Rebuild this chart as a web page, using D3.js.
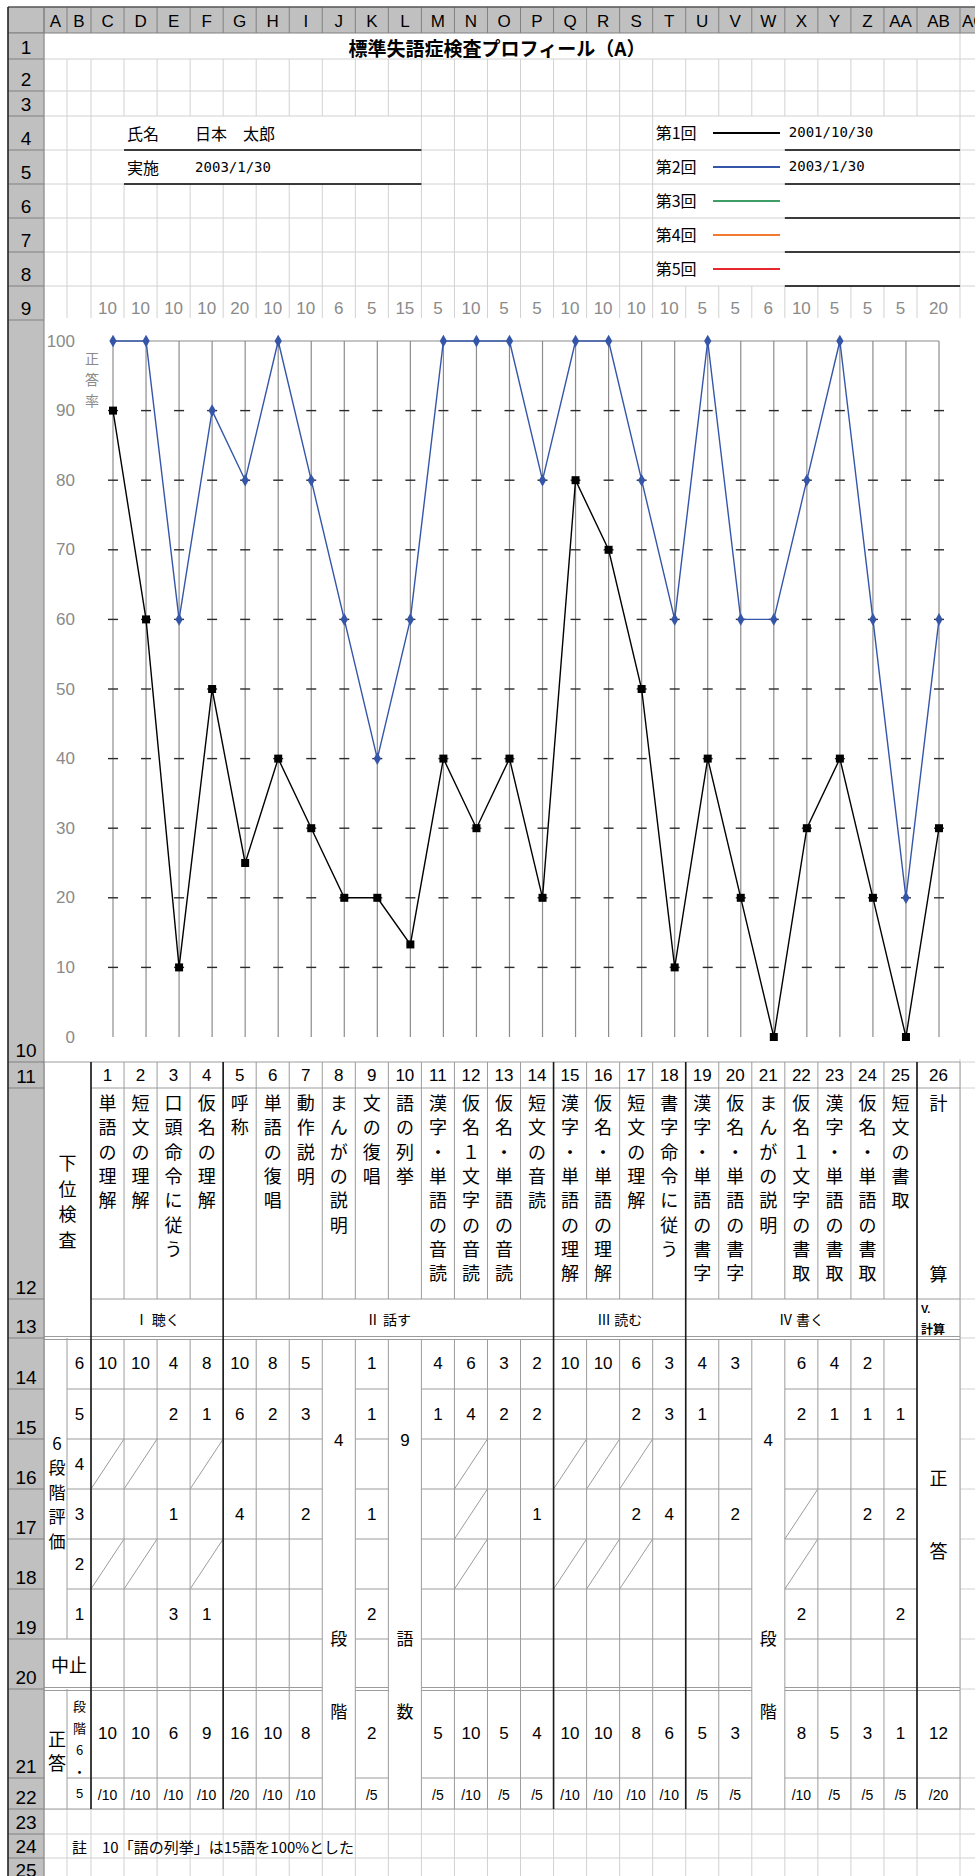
<!DOCTYPE html>
<html lang="ja">
<head>
<meta charset="utf-8">
<script src="https://cdn.jsdelivr.net/npm/d3@7"></script>
<style>
    body { margin: 0; background: #fff; }
    text { font-family: "Noto Sans CJK JP", sans-serif; }
    text.num { font-family: "Liberation Sans Narrow", "Liberation Sans", sans-serif; }
    text.mono { font-family: "DejaVu Sans Mono", monospace; }
</style>
</head>
<body>
<div id="sheet"></div>
<script>
'use strict';

/*
Data
 */
const itemNums = d3.range(1, 27);
const itemNames = ['単語の理解', '短文の理解', '口頭命令に従う', '仮名の理解', '呼称', '単語の復唱', '動作説明',
    'まんがの説明', '文の復唱', '語の列挙', '漢字・単語の音読', '仮名１文字の音読', '仮名・単語の音読', '短文の音読',
    '漢字・単語の理解', '仮名・単語の理解', '短文の理解', '書字命令に従う', '漢字・単語の書字', '仮名・単語の書字',
    'まんがの説明', '仮名１文字の書取', '漢字・単語の書取', '仮名・単語の書取', '短文の書取', '計算'];
const maxScores = [10, 10, 10, 10, 20, 10, 10, 6, 5, 15, 5, 10, 5, 5, 10, 10, 10, 10, 5, 5, 6, 10, 5, 5, 5, 20];
const session1 = [90, 60, 10, 50, 25, 40, 30, 20, 20, 13.3, 40, 30, 40, 20, 80, 70, 50, 10, 40, 20, 0, 30, 40, 20, 0, 30];
const session2 = [100, 100, 60, 90, 80, 100, 80, 60, 40, 60, 100, 100, 100, 80, 100, 100, 80, 60, 100, 60, 60, 80, 100, 60, 20, 60];
const sessionLabels = ['第1回', '第2回', '第3回', '第4回', '第5回'];
const sessionDates = ['2001/10/30', '2003/1/30', '', '', ''];
const sessionColors = ['#000000', '#3556a8', '#3f9e68', '#f27a2e', '#e8282e'];
const yTicks = d3.range(0, 101, 10);

const groupLabels = ['Ⅰ 聴く', 'Ⅱ 話す', 'Ⅲ 読む', 'Ⅳ 書く'];
const groupEnds = [4, 14, 18, 25, 26];

const levels = [6, 5, 4, 3, 2, 1];
const level6 = [10, 10, 4, 8, 10, 8, 5, null, 1, null, 4, 6, 3, 2, 10, 10, 6, 3, 4, 3, null, 6, 4, 2, null, null];
const level5 = [null, null, 2, 1, 6, 2, 3, null, 1, null, 1, 4, 2, 2, null, null, 2, 3, 1, null, null, 2, 1, 1, 1, null];
const level4 = itemNums.map(() => null);
const level3 = [null, null, 1, null, 4, null, 2, null, 1, null, null, null, null, 1, null, null, 2, 4, null, 2, null, null, null, 2, 2, null];
const level2 = itemNums.map(() => null);
const level1 = [null, null, 3, 1, null, null, null, null, 2, null, null, null, null, null, null, null, null, null, null, null, null, 2, null, null, 2, null];
const slashCells = [[1, 4], [1, 2], [2, 4], [2, 2], [4, 4], [4, 2], [12, 4], [12, 3], [12, 2],
    [15, 4], [15, 2], [16, 4], [16, 2], [17, 4], [17, 2], [22, 3], [22, 2]];
const mergedItems = [8, 10, 21];
const mergedValues = [4, 9, 4];
const mergedUnits = ['段階', '語数', '段階'];
const correctCounts = [10, 10, 6, 9, 16, 10, 8, null, 2, null, 5, 10, 5, 4, 10, 10, 8, 6, 5, 3, null, 8, 5, 3, 1, 12];

const patientName = '日本　太郎';
const testDate = '2003/1/30';
const title = '標準失語症検査プロフィール（A）';
const note = '註　10「語の列挙」は15語を100%とした';

/*
Sheet
 */
class ProfileSheet {

    // Configs
    svgW = 975;
    svgH = 1876;
    colLetters = ['A', 'B', 'C', 'D', 'E', 'F', 'G', 'H', 'I', 'J', 'K', 'L', 'M', 'N', 'O', 'P', 'Q', 'R', 'S',
        'T', 'U', 'V', 'W', 'X', 'Y', 'Z', 'AA', 'AB', 'AC'];
    colEdges = [44, 67, 91].concat(d3.range(1, 26).map(k => 91 + k * 33.04), [960, 1000]);
    rowEdges = [33, 59, 91, 116, 150, 184, 218, 252, 286, 320, 1062, 1088, 1299, 1338, 1389, 1439, 1489,
        1539, 1589, 1639, 1689, 1778, 1809, 1834, 1858, 1882];
    sheetLine = '#d2d2d2';
    cellLine = '#9c9c9c';
    headFill = '#c0c0c0';
    headLine = '#808080';
    boldLine = '#1a1a1a';

    // Tools
    xScale = d3.scalePoint().domain(itemNums).range([113, 939]);
    yScale = d3.scaleLinear().domain([0, 100]).range([1037, 341]);

    constructor(_target) {
        this.target = _target;
        this.init();
    }

    /*
    1. Init
     */
    init() {
        const vis = this;
        vis.svg = d3.select(`#${vis.target}`)
            .append('svg')
            .attr('width', vis.svgW)
            .attr('height', vis.svgH);
        vis.svg.append('rect').attr('width', vis.svgW).attr('height', vis.svgH).attr('fill', '#fff');

        vis.gridG = vis.svg.append('g').attr('class', 'gridG');
        vis.tableG = vis.svg.append('g').attr('class', 'tableG');
        vis.chartG = vis.svg.append('g').attr('class', 'chartG');
        vis.headG = vis.svg.append('g').attr('class', 'headG');

        vis.render();
    }

    // Helpers
    colL(c) { return this.colEdges[c]; }
    itemL(i) { return this.colEdges[i + 1]; }
    itemR(i) { return this.colEdges[i + 2]; }
    itemC(i) { return (this.itemL(i) + this.itemR(i)) / 2; }
    rowT(r) { return this.rowEdges[r - 1]; }
    rowB(r) { return this.rowEdges[r]; }
    rowC(r) { return (this.rowT(r) + this.rowB(r)) / 2; }
    levelRow(l) { return 14 + (6 - l); }

    line(g, x1, y1, x2, y2, color, w) {
        return g.append('line')
            .attr('x1', x1).attr('y1', y1).attr('x2', x2).attr('y2', y2)
            .attr('stroke', color).attr('stroke-width', w || 1);
    }

    text(g, x, y, s, size, opts = {}) {
        return g.append('text')
            .attr('class', opts.cls || null)
            .attr('x', x).attr('y', y)
            .attr('text-anchor', opts.anchor || 'middle')
            .attr('dominant-baseline', opts.baseline || 'central')
            .attr('font-size', size)
            .attr('font-weight', opts.weight || null)
            .attr('fill', opts.fill || '#000')
            .text(s);
    }

    vtext(g, x, y0, step, s, size, opts = {}) {
        Array.from(s).forEach((ch, k) => this.text(g, x, y0 + k * step, ch, size, opts));
    }

    // Segments of a table row that skip merged columns (J, L, W and optionally AB)
    segments(x0, withAB) {
        const vis = this;
        const cuts = mergedItems.map(i => [vis.itemL(i), vis.itemR(i)]);
        const end = withAB ? vis.itemR(26) : vis.itemL(26);
        const segs = [];
        let start = x0;
        cuts.forEach(([a, b]) => { segs.push([start, a]); start = b; });
        segs.push([start, end]);
        return segs;
    }

    /*
    2. Render
     */
    render() {
        const vis = this;
        vis.renderSheetGrid();
        vis.renderTable();
        vis.renderChart();
        vis.renderFrame();
    }

    renderSheetGrid() {
        const vis = this;
        const g = vis.gridG;

        // Horizontal lines, rows 1 to 9 and 23 to 25
        [1, 2, 3, 4, 5, 6, 7, 8].forEach(r => vis.line(g, 44, vis.rowB(r), 975, vis.rowB(r), vis.sheetLine));
        [22, 23, 24].forEach(r => vis.line(g, 44, vis.rowB(r), 975, vis.rowB(r), vis.sheetLine));
        d3.range(10, 23).forEach(r => vis.line(g, 960, vis.rowB(r), 975, vis.rowB(r), vis.sheetLine));

        // Vertical lines
        vis.colEdges.forEach((x, c) => {
            for (let r = 1; r <= 9; r++) {
                if (r === 1 && c > 0 && c < 28) continue;
                if ((r === 4 || r === 5) && c >= 3 && c <= 11) continue;
                if (r >= 4 && r <= 8 && c >= 20 && c <= 27) continue;
                const y2 = r === 9 ? 318 : vis.rowB(r);
                vis.line(g, x, vis.rowT(r), x, y2, vis.sheetLine);
            }
            vis.line(g, x, vis.rowT(23), x, vis.svgH, vis.sheetLine);
        });
        vis.line(g, 960, 1059, 960, 1809, vis.sheetLine);

        // Title
        vis.text(g, 497, vis.rowC(1) + 1, title, 19, {weight: 700});

        // Name block
        vis.text(g, vis.colL(3) + 3, vis.rowC(4), '氏名', 16, {anchor: 'start'});
        vis.text(g, vis.colL(5) + 5, vis.rowC(4), patientName, 16, {anchor: 'start'});
        vis.text(g, vis.colL(3) + 3, vis.rowC(5), '実施', 16, {anchor: 'start'});
        vis.text(g, vis.colL(5) + 5, vis.rowC(5), testDate, 14, {anchor: 'start', cls: 'mono'});
        [4, 5].forEach(r => vis.line(g, vis.colL(3), vis.rowB(r), vis.colL(12), vis.rowB(r), '#000', 1.3));

        // Legend block
        sessionLabels.forEach((lab, k) => {
            const r = 4 + k;
            const cy = vis.rowC(r) - 1;
            vis.text(g, vis.colL(19) + 3, cy, lab, 16, {anchor: 'start'});
            vis.line(g, 713, cy + 1, 780, cy + 1, sessionColors[k], 2);
            vis.text(g, vis.colL(23) + 4, cy, sessionDates[k], 14, {anchor: 'start', cls: 'mono'});
            vis.line(g, vis.colL(23), vis.rowB(r), 960, vis.rowB(r), '#000', 1.3);
        });

        // Row 9: maximum scores
        itemNums.forEach(i => vis.text(g, vis.itemC(i), 308, maxScores[i - 1], 17, {cls: 'num', fill: '#8a8a8a'}));

        // Note
        vis.text(g, vis.colL(1) + 5, vis.rowC(24), note, 15, {anchor: 'start'});
    }

    renderTable() {
        const vis = this;
        const g = vis.tableG;
        const L = vis.cellLine;
        const xEnd = vis.itemR(26);
        const xC = vis.itemL(1);

        g.append('rect').attr('x', 44).attr('y', vis.rowT(11)).attr('width', xEnd - 44)
            .attr('height', vis.rowB(22) - vis.rowT(11)).attr('fill', '#fff');

        // Header rows 11-13
        vis.line(g, 44, vis.rowT(11), xEnd, vis.rowT(11), L);
        vis.line(g, xC, vis.rowB(11), xEnd, vis.rowB(11), L);
        vis.line(g, xC, vis.rowB(12), xEnd, vis.rowB(12), L);
        vis.line(g, 44, vis.rowB(13) - 1.5, xEnd, vis.rowB(13) - 1.5, L);
        vis.line(g, 44, vis.rowB(13) + 1.5, xEnd, vis.rowB(13) + 1.5, L);
        itemNums.forEach(i => vis.line(g, vis.itemL(i), vis.rowT(11), vis.itemL(i), vis.rowB(12), L));
        vis.line(g, xEnd, vis.rowT(11), xEnd, vis.rowB(22), L);
        vis.line(g, 44, vis.rowT(11), 44, vis.rowB(22), L);

        vis.vtext(g, 67.5, 1162, 25.5, '下位検査', 18);
        itemNums.forEach(i => {
            vis.text(g, vis.itemC(i), vis.rowC(11), i, 17, {cls: 'num'});
            if (i === 26) {
                vis.text(g, vis.itemC(i), 1102, '計', 18);
                vis.text(g, vis.itemC(i), 1273, '算', 18);
            } else {
                vis.vtext(g, vis.itemC(i), 1102, 24.3, itemNames[i - 1], 18);
            }
        });

        // Group labels row 13
        groupLabels.forEach((lab, k) => {
            const first = k === 0 ? 1 : groupEnds[k - 1] + 1;
            const cx = (vis.itemL(first) + vis.itemR(groupEnds[k])) / 2;
            vis.text(g, cx, vis.rowC(13), lab, 14);
        });
        vis.text(g, vis.itemL(26) + 4, 1309, 'V.', 11, {anchor: 'start', weight: 700, cls: 'num'});
        vis.text(g, vis.itemL(26) + 4, 1328, '計算', 12, {anchor: 'start', weight: 700});

        // Level rows 14-19 horizontal borders
        for (let r = 14; r <= 18; r++) {
            vis.segments(vis.colL(1), false).forEach(([a, b]) => vis.line(g, a, vis.rowB(r), b, vis.rowB(r), L));
        }
        vis.segments(44, false).forEach(([a, b]) => vis.line(g, a, vis.rowB(19), b, vis.rowB(19), L));
        vis.segments(44, true).forEach(([a, b]) => {
            vis.line(g, a, vis.rowB(20) - 1.5, b, vis.rowB(20) - 1.5, L);
            vis.line(g, a, vis.rowB(20) + 1.5, b, vis.rowB(20) + 1.5, L);
        });
        vis.segments(vis.colL(1), true).forEach(([a, b]) => vis.line(g, a, vis.rowB(21), b, vis.rowB(21), L));
        vis.line(g, 44, vis.rowB(22), xEnd, vis.rowB(22), L);

        // Vertical borders rows 14-22
        vis.line(g, vis.colL(1), vis.rowT(14), vis.colL(1), vis.rowT(20), L);
        vis.line(g, vis.colL(1), vis.rowT(21), vis.colL(1), vis.rowB(22), L);
        itemNums.forEach(i => vis.line(g, vis.itemL(i), vis.rowT(14) + 2, vis.itemL(i), vis.rowB(22), L));

        // Diagonal cells
        slashCells.forEach(([i, l]) => {
            const r = vis.levelRow(l);
            vis.line(g, vis.itemL(i), vis.rowB(r), vis.itemR(i), vis.rowT(r), L);
        });

        // Row labels
        vis.vtext(g, 57, 1442, 24.5, '6段階評価', 17);
        levels.forEach(l => vis.text(g, 79.5, vis.rowC(vis.levelRow(l)), l, 17, {cls: 'num'}));
        vis.text(g, 69, vis.rowC(20), '中止', 18);
        vis.vtext(g, 57, 1738, 24, '正答', 18);
        vis.vtext(g, 79.5, 1705, 22, '段階6・', 13);
        vis.text(g, 79.5, vis.rowC(22), '5', 13, {cls: 'num'});

        // Level values
        const levelRows = [level6, level5, level4, level3, level2, level1];
        levelRows.forEach((vals, k) => {
            const r = vis.levelRow(levels[k]);
            vals.forEach((v, j) => {
                if (v !== null) vis.text(g, vis.itemC(j + 1), vis.rowC(r), v, 17, {cls: 'num'});
            });
        });

        // Merged columns
        mergedItems.forEach((i, k) => {
            vis.text(g, vis.itemC(i), 1440, mergedValues[k], 17, {cls: 'num'});
            vis.text(g, vis.itemC(i), 1637, mergedUnits[k][0], 17);
            vis.text(g, vis.itemC(i), 1710, mergedUnits[k][1], 17);
        });
        vis.text(g, vis.itemC(26), 1477, '正', 18);
        vis.text(g, vis.itemC(26), 1550, '答', 18);

        // Correct answers
        correctCounts.forEach((v, j) => {
            if (v === null) return;
            vis.text(g, vis.itemC(j + 1), vis.rowC(21), v, 17, {cls: 'num'});
            vis.text(g, vis.itemC(j + 1), vis.rowC(22) + 1, `/${maxScores[j]}`, 14, {cls: 'num'});
        });

        // Group borders
        [1].concat(groupEnds.slice(0, 4).map(e => e + 1)).forEach(i => {
            vis.line(g, vis.itemL(i), vis.rowT(11), vis.itemL(i), vis.rowB(22), vis.boldLine, 1.6);
        });
    }

    renderChart() {
        const vis = this;
        const g = vis.chartG;
        const x = vis.xScale;
        const y = vis.yScale;

        g.append('rect').attr('x', 44).attr('y', 319).attr('width', 931).attr('height', 740).attr('fill', '#fff');

        // Grid
        itemNums.forEach(i => vis.line(g, x(i), y(0), x(i), y(100), '#8c8c8c', 1.2));
        vis.line(g, x(1), y(100), x(26), y(100), '#8c8c8c', 1.2);
        yTicks.filter(t => t > 0 && t < 100).forEach(t => {
            itemNums.forEach(i => vis.line(g, x(i) - 5, y(t), x(i) + 5, y(t), '#2a2a2a', 1.4));
        });

        // Axis labels
        yTicks.forEach(t => vis.text(g, 75, y(t), t, 17, {anchor: 'end', cls: 'num', fill: '#8a8a8a'}));
        vis.vtext(g, 92, 358, 21, '正答率', 14, {fill: '#8a8a8a'});

        // Series
        const line = d3.line().x((d, k) => x(k + 1)).y(d => y(d));
        g.append('path').datum(session2).attr('d', line)
            .attr('fill', 'none').attr('stroke', sessionColors[1]).attr('stroke-width', 1.4);
        g.append('path').datum(session1).attr('d', line)
            .attr('fill', 'none').attr('stroke', sessionColors[0]).attr('stroke-width', 1.4);

        g.selectAll('.diamond').data(session2).join('path')
            .attr('class', 'diamond')
            .attr('d', d3.symbol().type(d3.symbolDiamond).size(46))
            .attr('transform', (d, k) => `translate(${x(k + 1)},${y(d)})`)
            .attr('fill', sessionColors[1]);
        g.selectAll('.square').data(session1).join('rect')
            .attr('class', 'square')
            .attr('x', (d, k) => x(k + 1) - 4)
            .attr('y', d => y(d) - 4)
            .attr('width', 8).attr('height', 8)
            .attr('fill', sessionColors[0]);
    }

    renderFrame() {
        const vis = this;
        const g = vis.headG;

        // Column headers
        g.append('rect').attr('x', 8).attr('y', 7).attr('width', vis.svgW - 8).attr('height', 26).attr('fill', vis.headFill);
        vis.colEdges.forEach(x => vis.line(g, x, 7, x, 33, vis.headLine));
        vis.colLetters.forEach((lab, c) => {
            const cx = (vis.colEdges[c] + vis.colEdges[c + 1]) / 2;
            vis.text(g, c === 28 ? 962 : cx, 21, lab, 17, {cls: 'num', anchor: c === 28 ? 'start' : 'middle'});
        });
        vis.line(g, 8, 7, vis.svgW, 7, '#555', 1.5);
        vis.line(g, 8, 33, vis.svgW, 33, vis.headLine);

        // Row headers
        g.append('rect').attr('x', 8).attr('y', 33).attr('width', 36).attr('height', vis.svgH - 33).attr('fill', vis.headFill);
        vis.rowEdges.forEach(yy => vis.line(g, 8, yy, 44, yy, vis.headLine));
        d3.range(1, 26).forEach(r => vis.text(g, 26, vis.rowB(r) - 5, r, 19, {cls: 'num', baseline: 'alphabetic'}));
        vis.line(g, 44, 7, 44, vis.svgH, vis.headLine);
        vis.line(g, 8, 7, 8, vis.svgH, '#222', 1.6);
    }
}

new ProfileSheet('sheet');
</script>
</body>
</html>
